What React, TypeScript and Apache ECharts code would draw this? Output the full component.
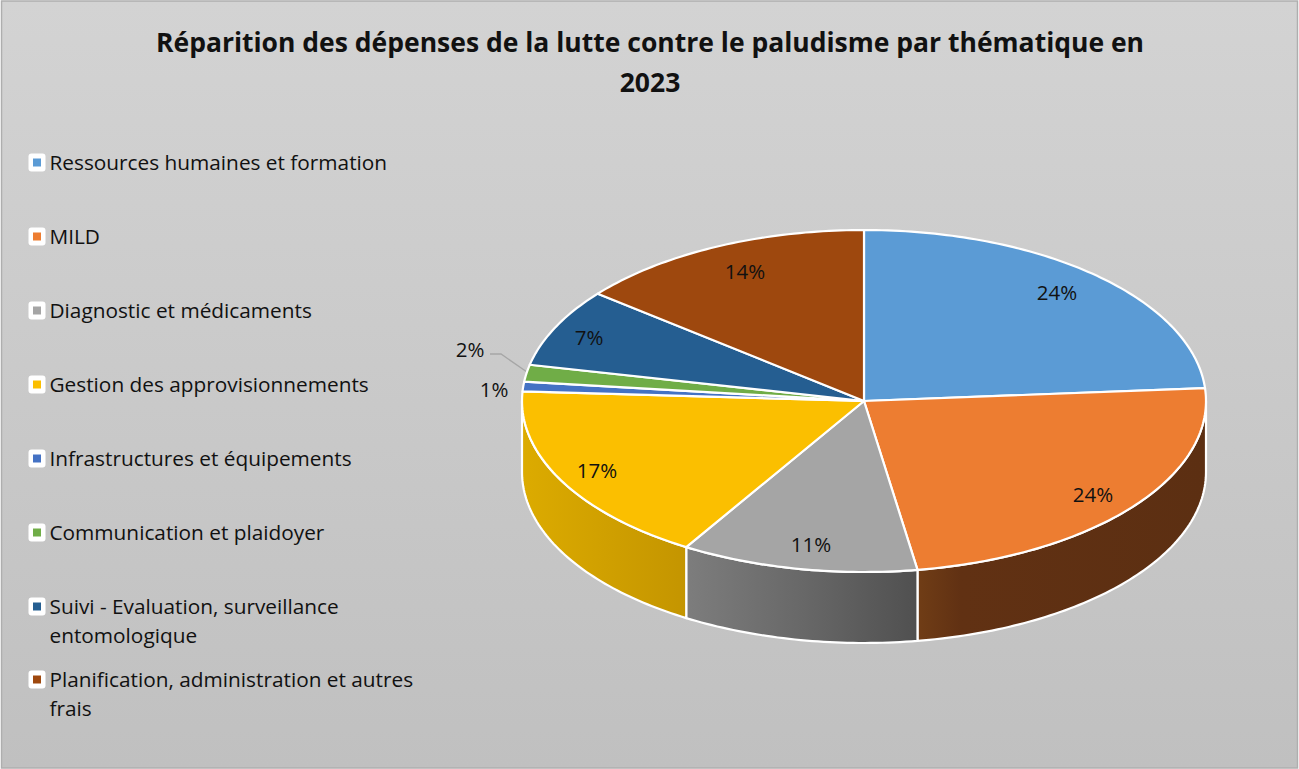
import React, { useEffect, useRef } from "react";
import * as echarts from "echarts";

const TITLE = "Réparition des dépenses de la lutte contre le paludisme par thématique en\n2023";
const categories = [
  "Ressources humaines et formation",
  "MILD",
  "Diagnostic et médicaments",
  "Gestion des approvisionnements",
  "Infrastructures et équipements",
  "Communication et plaidoyer",
  "Suivi - Evaluation, surveillance\nentomologique",
  "Planification, administration et autres\nfrais",
];
const values = [23.8, 23.7, 11.2, 17.2, 0.9, 1.6, 7.4, 14.2];
const percentLabels = ["24%", "24%", "11%", "17%", "1%", "2%", "7%", "14%"];
const colors = ["#5B9BD5", "#ED7D31", "#A5A5A5", "#FBBF00", "#4472C4", "#70AD47", "#255E91", "#9E480E"];
const wallColors: Record<number, string[]> = {
  1: ["#703D16", "#613113", "#5C2F12"],
  2: ["#7D7D7D", "#686868", "#505050"],
  3: ["#DCAB00", "#D0A000", "#C49500"],
};

// layout
const CX = 864, CY = 401, RX = 342, RY = 171, DEPTH = 71;
const labelCenters = [[1057, 292], [1093, 494], [811, 544], [597, 470], [494, 389], [470, 349], [589, 337], [745, 271]];
const legendMarkerY = [162, 236, 310, 384, 458, 532, 606, 679];
const legendTextY = [162, 236, 310, 384, 458, 532, 620.5, 693.5];
const FONT = "'Open Sans', sans-serif";

const total = values.reduce((a, b) => a + b, 0);
const starts: number[] = [];
values.reduce((acc, v, i) => { starts[i] = acc; return acc + v; }, 0);
const toAngle = (v: number) => (v / total) * 2 * Math.PI;
const rim = (t: number, dy = 0): number[] => [CX + RX * Math.sin(t), CY + dy - RY * Math.cos(t)];
const arc = (a: number, b: number, dy = 0): number[][] => {
  const n = Math.max(2, Math.ceil(((b - a) * 180) / Math.PI));
  const pts: number[][] = [];
  for (let i = 0; i <= n; i++) pts.push(rim(a + ((b - a) * i) / n, dy));
  return pts;
};

const legendGraphics: any[] = [];
categories.forEach((name, i) => {
  const y = legendMarkerY[i];
  legendGraphics.push(
    { type: "rect", shape: { x: 28.5, y: y - 8.5, width: 17, height: 18, r: 3 }, style: { fill: "#fff" } },
    { type: "rect", shape: { x: 33, y: y - 3.5, width: 8, height: 8 }, style: { fill: colors[i] } },
    {
      type: "text", x: 49.5, y: legendTextY[i],
      style: { text: name, font: `20.8px ${FONT}`, fill: "#111", textVerticalAlign: "middle", lineHeight: 29 },
    }
  );
});

export default function App() {
  const ref = useRef<HTMLDivElement>(null);
  useEffect(() => {
    document.body.style.margin = "0";
    const chart = echarts.init(ref.current!, null, { renderer: "svg" });
    chart.setOption({
      animation: false,
      title: {
        text: TITLE, left: 645, top: 17, textAlign: "center",
        textStyle: { fontFamily: "'Open Sans', sans-serif", fontWeight: "bold", fontSize: 26.5, color: "#111", lineHeight: 40 },
      },
      graphic: [
        {
          type: "rect", z: -10, silent: true,
          shape: { x: 1.5, y: 1, width: 1296, height: 767 },
          style: {
            stroke: "#AEAEAE", lineWidth: 1.5,
            fill: new echarts.graphic.LinearGradient(0, 0, 0, 1, [
              { offset: 0, color: "#D3D3D3" },
              { offset: 1, color: "#C0C0C0" },
            ]),
          },
        },
        ...legendGraphics,
        { type: "polyline", shape: { points: [[490, 354], [501, 354], [527, 372]] }, style: { stroke: "#A6A6A6", lineWidth: 1.3, fill: "none" } },
      ],
      series: [
        {
          type: "custom", coordinateSystem: "none", z: 2, silent: true,
          data: values.map((v, i) => [v, i]),
          renderItem: (_p: any, api: any) => {
            const i = api.value(1);
            const a = toAngle(starts[i]);
            const b = a + toAngle(api.value(0));
            const lo = Math.max(a, Math.PI / 2), hi = Math.min(b, (3 * Math.PI) / 2);
            if (hi <= lo || !wallColors[i]) return { type: "group", children: [] };
            const top = arc(lo, hi);
            const bottom = arc(lo, hi, DEPTH).reverse();
            const c = wallColors[i];
            return {
              type: "polygon",
              shape: { points: [...top, ...bottom] },
              style: {
                fill: new echarts.graphic.LinearGradient(0, 0, 1, 0, [
                  { offset: 0, color: c[0] },
                  { offset: i === 1 ? 0.15 : 0.5, color: c[1] },
                  { offset: 1, color: c[2] },
                ]),
                stroke: "#fff", lineWidth: 2.2, lineJoin: "round",
              },
            };
          },
        },
        {
          type: "custom", coordinateSystem: "none", z: 3, silent: true,
          data: values.map((v, i) => [v, i]),
          renderItem: (_p: any, api: any) => {
            const i = api.value(1);
            const a = toAngle(starts[i]);
            const b = a + toAngle(api.value(0));
            return {
              type: "polygon",
              shape: { points: [[CX, CY], ...arc(a, b)] },
              style: { fill: colors[i], stroke: "#fff", lineWidth: 2.2, lineJoin: "round" },
            };
          },
        },
        {
          type: "custom", coordinateSystem: "none", z: 4, silent: true,
          data: values.map((v, i) => [v, i]),
          renderItem: (_p: any, api: any) => {
            const i = api.value(1);
            return {
              type: "text", x: labelCenters[i][0], y: labelCenters[i][1],
              style: {
                text: percentLabels[i], font: `20.5px ${FONT}`, fill: "#111",
                textAlign: "center", textVerticalAlign: "middle",
              },
            };
          },
        },
      ],
    });
    return () => chart.dispose();
  }, []);
  return <div ref={ref} style={{ width: 1299, height: 769 }} />;
}
